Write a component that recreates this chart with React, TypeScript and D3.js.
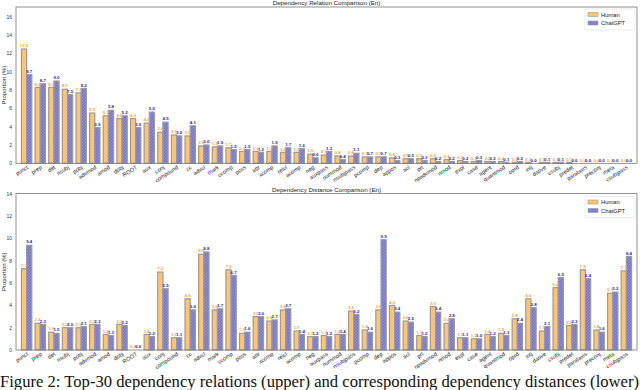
import React, { useEffect, useRef } from 'react'
import * as d3 from 'd3'

// dependency relation labels, shared by both panels
const categories = [
  'punct', 'prep', 'det', 'nsubj', 'pobj', 'advmod', 'amod', 'dobj', 'ROOT', 'aux',
  'conj', 'compound', 'cc', 'advcl', 'mark', 'ccomp', 'poss', 'attr', 'xcomp', 'relcl',
  'acomp', 'neg', 'auxpass', 'nummod', 'nsubjpass', 'pcomp', 'dep', 'appos', 'acl', 'prt',
  'npadvmod', 'nmod', 'expl', 'case', 'agent', 'quantmod', 'oprd', 'intj', 'dative', 'csubj',
  'predet', 'parataxis', 'preconj', 'meta', 'csubjpass'
]

const relationHuman = [
  12.5, 8.3, 8.3, 8.1, 7.7, 5.5, 5.2, 4.9, 4.9, 4.4,
  3.4, 3.1, 3.0, 1.9, 1.8, 1.7, 1.3, 1.3, 1.3, 1.2,
  1.2, 1.0, 0.9, 0.8, 0.8, 0.7, 0.7, 0.6, 0.5, 0.5,
  0.5, 0.4, 0.3, 0.2, 0.2, 0.2, 0.1, 0.1, 0.1, 0.1,
  0.1, 0.0, 0.0, 0.0, 0.0
]
const relationChatGPT = [
  9.7, 8.7, 9.0, 7.5, 8.2, 3.9, 5.8, 5.2, 3.9, 5.6,
  4.5, 3.0, 4.1, 2.0, 1.9, 1.5, 1.5, 1.2, 1.9, 1.7,
  1.6, 0.6, 1.3, 0.4, 1.1, 0.7, 0.7, 0.3, 0.5, 0.3,
  0.2, 0.2, 0.2, 0.3, 0.2, 0.1, 0.2, 0.0, 0.1, 0.1,
  0.0, 0.0, 0.0, 0.0, 0.0
]

const distanceHuman = [
  7.3, 2.4, 1.6, 2.0, 2.0, 2.3, 1.4, 2.3, 0.0, 1.4,
  7.0, 1.1, 4.6, 8.6, 3.6, 7.2, 1.5, 3.0, 2.6, 3.6,
  1.7, 1.2, 1.3, 1.4, 3.5, 1.8, 3.6, 4.0, 2.6, 1.3,
  3.9, 2.4, 1.1, 1.0, 1.4, 1.5, 2.8, 4.6, 1.7, 5.6,
  2.2, 7.2, 1.8, 5.1, 7.1
]
const distanceChatGPT = [
  9.4, 2.3, 1.5, 2.0, 2.1, 2.3, 1.3, 2.2, 0.0, 1.2,
  5.5, 1.1, 3.6, 8.8, 3.7, 6.7, 1.6, 3.0, 2.7, 3.7,
  1.4, 1.2, 1.2, 1.4, 3.2, 1.6, 9.9, 3.4, 2.5, 1.2,
  3.4, 2.8, 1.1, 1.0, 1.2, 1.3, 2.4, 3.8, 2.1, 6.5,
  2.3, 6.4, 1.6, 5.2, 8.4
]

const relationTicks = [0, 2, 4, 6, 8, 10, 12, 14, 16]
const distanceTicks = [0, 2, 4, 6, 8, 10, 12, 14]

const seriesNames = ['Human', 'ChatGPT']

const W = 640
const H = 390
const FONT = 'Liberation Sans, Arial, sans-serif'
const humanFill = '#ffc46f'
const gptFill = '#7a7ad2'
const humanText = '#f5a33a'
const gptText = '#2626a8'

function drawPanel(svg, opts) {
  const { top, bottom, yMax, ticks, human, gpt, title, legendY } = opts
  const left = 16
  const right = 637

  const x = d3.scalePoint()
    .domain(categories)
    .range([left, right])
    .padding(0.78)
  const y = d3.scaleLinear().domain([0, yMax]).range([bottom, top])
  const bw = x.step() * 0.38

  const g = svg.append('g')

  g.append('text')
    .attr('x', (left + right) / 2)
    .attr('y', top - 2)
    .attr('text-anchor', 'middle')
    .attr('font-size', 6.2)
    .attr('fill', '#222')
    .text(title)

  // y ticks
  g.selectAll('.ytick')
    .data(ticks).enter()
    .append('text')
      .attr('x', left - 4)
      .attr('y', d => y(d) + 1.8)
      .attr('text-anchor', 'end')
      .attr('font-size', 5)
      .attr('fill', '#333')
      .text(d => d)

  g.append('text')
    .attr('transform', `translate(6,${(top + bottom) / 2}) rotate(-90)`)
    .attr('text-anchor', 'middle')
    .attr('font-size', 6)
    .attr('fill', '#222')
    .text('Proportion (%)')

  const rows = categories.map((c, i) => ({ c, h: human[i], g: gpt[i] }))

  // human bars
  g.selectAll('.hbar')
    .data(rows).enter()
    .append('rect')
      .attr('x', d => x(d.c) - bw)
      .attr('y', d => y(d.h))
      .attr('width', bw)
      .attr('height', d => bottom - y(d.h))
      .attr('fill', humanFill)
      .attr('stroke', '#9a9a9a')
      .attr('stroke-width', 1.2)

  // chatgpt bars
  g.selectAll('.gbar')
    .data(rows).enter()
    .append('rect')
      .attr('x', d => x(d.c))
      .attr('y', d => y(d.g))
      .attr('width', bw)
      .attr('height', d => bottom - y(d.g))
      .attr('fill', 'url(#hatch)')
      .attr('stroke', '#9a9a9a')
      .attr('stroke-width', 1.2)

  g.selectAll('.hlab')
    .data(rows).enter()
    .append('text')
      .attr('x', d => x(d.c) - bw / 2)
      .attr('y', d => y(d.h) - 1.8)
      .attr('text-anchor', 'middle')
      .attr('font-size', 4.4)
      .attr('font-weight', 'bold')
      .attr('fill', humanText)
      .text(d => d.h.toFixed(1))

  g.selectAll('.glab')
    .data(rows).enter()
    .append('text')
      .attr('x', d => x(d.c) + bw / 2)
      .attr('y', d => y(d.g) - 1.8)
      .attr('text-anchor', 'middle')
      .attr('font-size', 4.4)
      .attr('font-weight', 'bold')
      .attr('fill', gptText)
      .text(d => d.g.toFixed(1))

  // x labels
  g.selectAll('.xlab')
    .data(categories).enter()
    .append('text')
      .attr('transform', d => `translate(${x(d) + 2},${bottom + 5}) rotate(-33)`)
      .attr('text-anchor', 'end')
      .attr('font-size', 5.6)
      .attr('fill', '#222')
      .text(d => d)

  // frame
  g.append('rect')
    .attr('x', left)
    .attr('y', top)
    .attr('width', right - left)
    .attr('height', bottom - top)
    .attr('fill', 'none')
    .attr('stroke', '#777')
    .attr('stroke-width', 0.8)

  // legend
  const lg = g.append('g').attr('transform', `translate(585,${legendY})`)
  lg.append('rect')
    .attr('width', 50).attr('height', 21).attr('rx', 1.5)
    .attr('fill', '#fff').attr('stroke', '#ddd').attr('stroke-width', 0.6)
  seriesNames.forEach((s, i) => {
    lg.append('rect')
      .attr('x', 3).attr('y', 3.5 + i * 8.5)
      .attr('width', 10).attr('height', 4)
      .attr('fill', i === 0 ? humanFill : 'url(#hatch)')
      .attr('stroke', '#9a9a9a').attr('stroke-width', 0.6)
    lg.append('text')
      .attr('x', 16).attr('y', 7.5 + i * 8.5)
      .attr('font-size', 5.8)
      .attr('fill', '#222')
      .text(s)
  })
}

export default function App() {
  const ref = useRef(null)

  useEffect(() => {
    const svg = d3.select(ref.current)
    svg.selectAll('*').remove()
    svg.style('font-family', FONT)

    const defs = svg.append('defs')
    const pat = defs.append('pattern')
      .attr('id', 'hatch')
      .attr('patternUnits', 'userSpaceOnUse')
      .attr('width', 3)
      .attr('height', 3)
    pat.append('rect').attr('width', 3).attr('height', 3).attr('fill', gptFill)
    pat.append('path')
      .attr('d', 'M-1,1 L1,-1 M0,3 L3,0 M2,4 L4,2')
      .attr('stroke', '#9a9ae4')
      .attr('stroke-width', 0.6)

    drawPanel(svg, {
      top: 7, bottom: 163.3, yMax: 17.1, ticks: relationTicks,
      human: relationHuman, gpt: relationChatGPT,
      title: 'Dependency Relation Comparison (En)', legendY: 9
    })
    drawPanel(svg, {
      top: 193.5, bottom: 350, yMax: 14.05, ticks: distanceTicks,
      human: distanceHuman, gpt: distanceChatGPT,
      title: 'Dependency Distance Comparison (En)', legendY: 196.5
    })

    // caption, fits the width so nothing is cut at the right edge
    svg.append('text')
      .attr('x', 0)
      .attr('y', 386.5)
      .attr('font-family', 'Liberation Serif, Times New Roman, serif')
      .attr('font-size', 16.2)
      .attr('textLength', 639)
      .attr('lengthAdjust', 'spacingAndGlyphs')
      .attr('fill', '#111')
      .text('Figure 2: Top-30 dependency relations (upper) and corresponding dependency distances (lower)')
  }, [])

  return (
    <div style={{ position: 'absolute', left: 0, top: 0 }}>
      <svg ref={ref} width={W} height={H} style={{ display: 'block', background: '#fff' }} />
    </div>
  )
}
